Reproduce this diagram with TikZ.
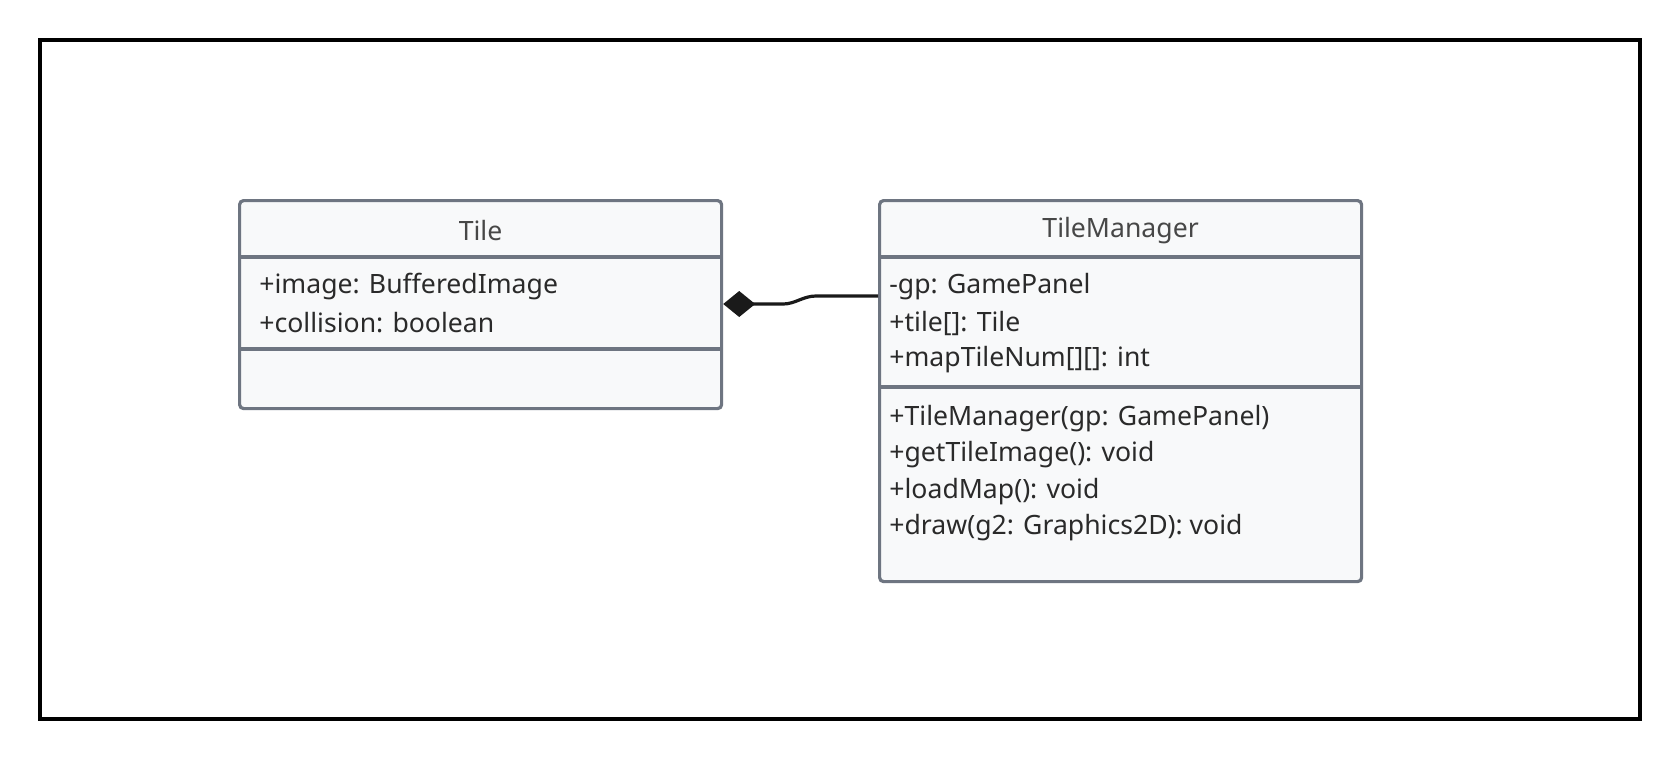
\documentclass[tikz,border=0pt]{standalone}
\usepackage{fontspec}
\setmainfont{Noto Sans}
\usetikzlibrary{arrows.meta,calc}
\definecolor{boxfill}{HTML}{F8F9FA}
\definecolor{boxdraw}{HTML}{6E7581}
\definecolor{titletext}{HTML}{474747}
\definecolor{membertext}{HTML}{2A2A2A}
\definecolor{connline}{HTML}{1A1A1A}
\tikzset{
  x=0.5pt, y=-0.5pt,
  classbox/.style={draw=boxdraw, fill=boxfill, line width=1.6pt, rounded corners=2pt, inner sep=0pt, anchor=north west},
  divider/.style={draw=boxdraw, line width=1.6pt},
  titletxt/.style={text=titletext, font=\fontsize{13.3}{15}\selectfont, inner sep=0pt},
  membertxt/.style={text=membertext, font=\fontsize{13.3}{15}\selectfont, inner sep=0pt, anchor=west},
  conn/.style={draw=connline, line width=1.6pt, -{Diamond[length=16pt,width=13pt]}},
  frame/.style={draw=black, line width=1.6pt}
}
\begin{document}
\begin{tikzpicture}
\useasboundingbox[fill=white] (0,0) rectangle (1680,760);
\draw[frame] (40,40) rectangle (1640,719);

% Tile class
\node[classbox, minimum width=241pt, minimum height=104pt] (tile) at (238,199) {};
\draw[divider] ($(tile.north west)+(0,58)$) -- ($(tile.north east)+(0,58)$);
\draw[divider] ($(tile.north west)+(0,150)$) -- ($(tile.north east)+(0,150)$);
\node[titletxt] (tiletitle) at ($(tile.north)+(0,32)$) {Tile};
\node[membertxt] (tilea1) at ($(tile.north west)+(21,88)$) {+image: BufferedImage};
\node[membertxt] (tilea2) at ($(tile.north west)+(21,124)$) {+collision: boolean};

% TileManager class
\node[classbox, minimum width=241pt, minimum height=190.5pt] (tm) at (878,199) {};
\draw[divider] ($(tm.north west)+(0,58)$) -- ($(tm.north east)+(0,58)$);
\draw[divider] ($(tm.north west)+(0,188)$) -- ($(tm.north east)+(0,188)$);
\node[titletxt] (tmtitle) at ($(tm.north)+(0,32)$) {TileManager};
\node[membertxt] (tma1) at ($(tm.north west)+(11,88)$) {-gp: GamePanel};
\node[membertxt] (tma2) at ($(tm.north west)+(11,124)$) {+tile[]: Tile};
\node[membertxt] (tma3) at ($(tm.north west)+(11,161)$) {+mapTileNum[][]: int};
\node[membertxt] (tmm1) at ($(tm.north west)+(11,220)$) {+TileManager(gp: GamePanel)};
\node[membertxt] (tmm2) at ($(tm.north west)+(11,256)$) {+getTileImage(): void};
\node[membertxt] (tmm3) at ($(tm.north west)+(11,293)$) {+loadMap(): void};
\node[membertxt] (tmm4) at ($(tm.north west)+(11,329)$) {+draw(g2: Graphics2D): void};

% composition connector
\coordinate (ca) at ($(tm.north west)+(0,97)$);
\coordinate (cb) at ($(tile.north east)+(0,105)$);
\draw[conn] (ca) -- ($(ca)+(-62,0)$) .. controls ($(ca)+(-75,0)$) and ($(cb)+(72,0)$) .. ($(cb)+(60,0)$) -- (cb);
\end{tikzpicture}
\end{document}
